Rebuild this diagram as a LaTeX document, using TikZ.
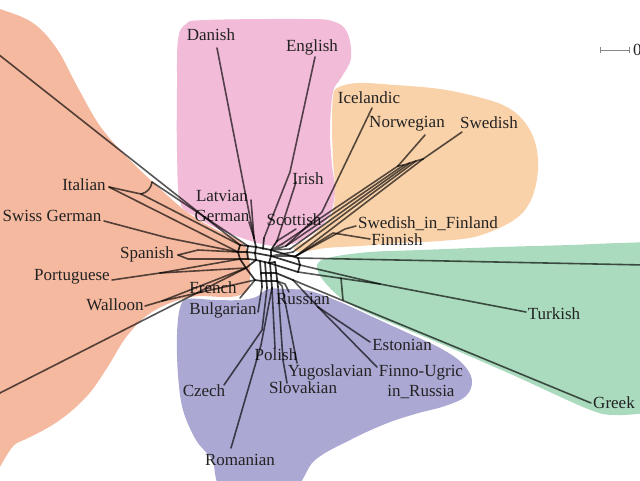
\documentclass[tikz,border=0pt]{standalone}
\usepackage{fontspec}
\setmainfont{Liberation Serif}
\definecolor{romc}{HTML}{F5B9A0}
\definecolor{germc}{HTML}{F2BBD8}
\definecolor{nordc}{HTML}{FAD2AA}
\definecolor{turkc}{HTML}{AADBBE}
\definecolor{slavc}{HTML}{ABA8D4}
\definecolor{labc}{HTML}{222222}
\definecolor{barc}{HTML}{888888}
\tikzset{
  lang/.style={font=\fontsize{17}{20}\selectfont, text=labc, inner sep=0pt},
  splitln/.style={draw=black, draw opacity=0.66, line width=1.6pt, line join=round, line cap=round},
  coreln/.style={draw=black, draw opacity=0.8, line width=1.7pt, line join=round, line cap=round},
}
\begin{document}
\begin{tikzpicture}[x={(1pt,0)}, y={(0,-1pt)}]
\useasboundingbox (0,0) rectangle (640,480);
\fill[white] (0,0) rectangle (640,480);

% ---------- coloured groups ----------
\fill[romc] plot[smooth cycle, tension=0.6] coordinates {(-30,0) (0,9) (33,23) (57,49) (77,86) (100,126) (127,157) (157,186) (187,212) (215,229) (238,240) (248,252) (250,276) (247,291) (230,297) (190,297) (152,312) (127,336) (107,368) (87,396) (57,422) (17,443) (-30,460)};
\fill[germc] plot[smooth cycle, tension=0.6] coordinates {(178,40) (186,24) (205,20) (300,19) (332,21) (347,32) (351,58) (341,78) (333,92) (330,130) (332,165) (335,192) (328,218) (306,238) (282,246) (262,244) (242,238) (218,229) (195,216) (180,202) (177,150) (177,90)};
\fill[nordc] plot[smooth cycle, tension=0.6] coordinates {(337,88) (358,83) (395,85) (440,89) (478,97) (505,106) (523,120) (535,142) (538,170) (531,200) (514,220) (478,236) (440,241) (400,243) (360,246) (326,248) (300,252) (295,247) (312,236) (331,215) (335,190) (333,160) (332,125) (333,98)};
\fill[turkc] plot[smooth cycle, tension=0.6] coordinates {(318,263) (332,257) (370,252) (420,250) (500,247) (570,245) (620,243) (650,243) (660,250) (660,405) (650,412) (615,415) (588,409) (515,376) (460,352) (413,332) (370,314) (345,301) (330,288) (319,274)};
\fill[slavc] plot[smooth cycle, tension=0.6] coordinates {(188,299) (215,300) (240,300) (256,297) (268,289) (285,289) (310,291) (340,302) (375,318) (410,334) (440,348) (462,363) (472,380) (466,396) (445,406) (415,414) (385,424) (350,440) (315,460) (290,490) (225,490) (212,460) (196,440) (183,410) (178,375) (177,335) (180,308)};

% ---------- central web (splits graph core) ----------
\coordinate (hL1) at (240,245); \coordinate (hL2) at (238,252); \coordinate (hL3) at (240,259);
\coordinate (hQ1) at (248,246); \coordinate (hQ2) at (247,252); \coordinate (hQ3) at (248,259);
\coordinate (hM1) at (256,247); \coordinate (hM2) at (255,253); \coordinate (hM3) at (256,260);
\coordinate (hR1) at (271,250); \coordinate (hR2) at (271,256); \coordinate (hR3) at (269,263);
\coordinate (v1t) at (260,261); \coordinate (v1b) at (262,287);
\coordinate (v2t) at (265,262); \coordinate (v2b) at (267,288);
\coordinate (v3t) at (270,263); \coordinate (v3b) at (272,288);
\coordinate (v4t) at (275,262); \coordinate (v4b) at (278,287);
\coordinate (v1m) at (261,273); \coordinate (v4m) at (276,273);
\coordinate (v1n) at (262,281); \coordinate (v4n) at (277,281);
\coordinate (rA1) at (298,258); \coordinate (rA2) at (300,265);
\coordinate (rA3) at (298,272); \coordinate (rA4) at (293,280);
\coordinate (uA1) at (254,238); \coordinate (uA2) at (264,238);
\coordinate (uA3) at (277,241); \coordinate (lowL) at (246,268);
\coordinate (fA) at (255,280); \coordinate (mR) at (263,249);

\draw[coreln] (hL1)--(hQ1)--(hM1)--(hR1);
\draw[coreln] (hL2)--(hQ2)--(hM2)--(hR2);
\draw[coreln] (hL3)--(hQ3)--(hM3)--(hR3);
\draw[coreln] (hL1)--(hL2)--(hL3) (hQ1)--(hQ2)--(hQ3) (hM1)--(hM2)--(hM3) (hR1)--(hR2)--(hR3);
\draw[coreln] (v1t)--(v1b) (v2t)--(v2b) (v3t)--(v3b) (v4t)--(v4b);
\draw[coreln] (v1m)--(v4m) (v1n)--(v4n) (hR3)--(v4t);
\draw[coreln] (hR1)--(rA1) (hR2)--(rA2) (hR3)--(rA3) (v4m)--(rA4);
\draw[coreln] (rA1)--(rA2)--(rA3);
\draw[coreln] (hM1)--(uA1) (mR)--(uA2) (hR1)--(uA3);
\draw[coreln] (hM3)--(lowL)--(hL3) (lowL)--(fA)--(v1n);

% ---------- labels ----------
\node[lang] (lDA) at (211,35) {Danish};
\node[lang] (lEN) at (312,47) {English};
\node[lang] (lIC) at (369,98) {Icelandic};
\node[lang] (lNO) at (407,124) {Norwegian};
\node[lang] (lSW) at (489,123) {Swedish};
\node[lang] (lIR) at (308,179) {Irish};
\node[lang] (lLA) at (222,196) {Latvian};
\node[lang] (lGE) at (222,216) {German};
\node[lang] (lSC) at (294,220) {Scottish};
\node[lang] (lSF) at (428,224) {Swedish\_in\_Finland};
\node[lang] (lFI) at (397,240) {Finnish};
\node[lang] (lIT) at (84,185) {Italian};
\node[lang] (lSG) at (52,216) {Swiss German};
\node[lang] (lSP) at (147,254) {Spanish};
\node[lang] (lPT) at (72,277) {Portuguese};
\node[lang] (lFR) at (213,288) {French};
\node[lang] (lWA) at (115,305) {Walloon};
\node[lang] (lBG) at (223,310) {Bulgarian};
\node[lang] (lRU) at (303,299) {Russian};
\node[lang] (lTU) at (554,314) {Turkish};
\node[lang] (lES) at (402,345) {Estonian};
\node[lang, align=center] (lFU) at (421,382) {Finno-Ugric\\in\_Russia};
\node[lang] (lPO) at (276,355) {Polish};
\node[lang] (lYU) at (330,372) {Yugoslavian};
\node[lang] (lSK) at (303,388) {Slovakian};
\node[lang] (lCZ) at (204,391) {Czech};
\node[lang] (lRO) at (240,460) {Romanian};
\node[lang] (lGR) at (614,403) {Greek};

% ---------- leaf tips and bends ----------
\coordinate (tTL) at (-2,54);   \coordinate (tBL) at (-2,394);  \coordinate (tRL) at (645,265);
\coordinate (tIT) at (109,187); \coordinate (i1) at (141,194);  \coordinate (i2) at (152,182);
\coordinate (tSG) at (104,221); \coordinate (s1) at (168,238);
\coordinate (tSP) at (178,255); \coordinate (sp1) at (198,250); \coordinate (sp2) at (188,259);
\coordinate (tPT) at (112,280); \coordinate (p1) at (160,273);
\coordinate (tWA) at (145,306); \coordinate (w1) at (162,301);
\coordinate (tFR) at (240,298);
\coordinate (tBG) at (258,312);
\coordinate (tCZ) at (224,385); \coordinate (c1) at (262,330);
\coordinate (tRO) at (231,448); \coordinate (r1) at (261,345);
\coordinate (tPO) at (275,348);
\coordinate (tSK) at (287,383); \coordinate (sk1) at (283,360);
\coordinate (tYU) at (297,363); \coordinate (aYU) at (282,286);
\coordinate (tRU) at (289,292); \coordinate (aRU) at (285,284);
\coordinate (tES) at (370,342); \coordinate (tFU) at (377,367); \coordinate (e1) at (318,307);
\coordinate (tTU) at (526,312); \coordinate (tu1) at (380,284);
\coordinate (tGR) at (591,403);
\coordinate (g1) at (341,278);  \coordinate (g2) at (343,300);
\coordinate (tIC) at (372,108); \coordinate (ic1) at (322,212);
\coordinate (tNO) at (425,135); \coordinate (tSW) at (462,132);
\coordinate (n1) at (398,166);  \coordinate (n2) at (404,165); \coordinate (n3) at (410,163);
\coordinate (n4) at (416,161);  \coordinate (n5) at (423,159);
\coordinate (k1) at (282,244);  \coordinate (k2) at (286,246); \coordinate (k3) at (290,249);
\coordinate (k4) at (293,252);  \coordinate (k5) at (296,256);
\coordinate (tSF) at (356,226); \coordinate (sf1) at (345,229);
\coordinate (tFI) at (370,239); \coordinate (fi1) at (333,233);
\coordinate (tDA) at (217,48);
\coordinate (tEN) at (315,57);  \coordinate (en1) at (290,172);
\coordinate (tIR) at (296,182);
\coordinate (tLA) at (251,200);
\coordinate (tGE) at (249,222);
\coordinate (tSC) at (296,229);

% ---------- edges ----------
\draw[splitln] (tTL)--(hL1);
\draw[splitln] (i2)--(hQ1);
\draw[splitln] (tIT)--(i1)--(hL1);
\draw[splitln] (i1) to[bend right=35] (i2);
\draw[splitln] (tIT)--(hL2);
\draw[splitln] (tSG)--(s1)--(hL2);
\draw[splitln] (tSP)--(sp1)--(hL2);
\draw[splitln] (tSP)--(sp2)--(hL3);
\draw[splitln] (tPT)--(p1)--(hL3);
\draw[splitln] (p1)--(lowL);
\draw[splitln] (tWA)--(w1)--(lowL);
\draw[splitln] (w1)--(fA);
\draw[splitln] (tBL)--(lowL);
\draw[splitln] (tFR)--(fA);
\draw[splitln] (tBG)--(v1b);
\draw[splitln] (tCZ)--(c1)--(v2b);
\draw[splitln] (tRO)--(r1)--(v3b);
\draw[splitln] (tPO)--(v3b);
\draw[splitln] (tSK)--(sk1)--(v4b);
\draw[splitln] (tYU)--(aYU)--(v4n);
\draw[splitln] (tRU)--(aRU)--(v4n);
\draw[splitln] (tES)--(e1);
\draw[splitln] (tFU)--(e1);
\draw[splitln] (e1)--(rA4);
\draw[splitln] (tRL)--(rA1);
\draw[splitln] (tTU)--(tu1)--(rA3);
\draw[splitln] (tu1)--(rA2);
\draw[splitln] (tGR)--(rA4);
\draw[splitln] (g1)--(g2);
\draw[splitln] (tIC)--(ic1)--(k2);
\draw[splitln] (tNO)--(n1);
\draw[splitln] (tSW)--(n5);
\draw[splitln] (n1)--(n2)--(n3)--(n4)--(n5);
\draw[splitln] (n1)--(k1);
\draw[splitln] (n2)--(k2);
\draw[splitln] (n3)--(k3);
\draw[splitln] (n4)--(k4);
\draw[splitln] (n5)--(k5);
\draw[splitln] (k1)--(hR1) (k2)--(hR1) (k3)--(hR1) (k4)--(hR2) (k5)--(hR2);
\draw[splitln] (tSF)--(sf1)--(k5);
\draw[splitln] (tFI)--(fi1)--(k5);
\draw[splitln] (tDA)--(uA1);
\draw[splitln] (tEN)--(en1)--(uA2);
\draw[splitln] (tIR)--(uA3);
\draw[splitln] (tLA)--(uA1);
\draw[splitln] (tGE)--(uA1);
\draw[splitln] (tSC)--(uA3);

% ---------- scale bar ----------
\coordinate (sb1) at (600,50);
\coordinate (sb2) at (629,50);
\draw[barc, line width=1pt] (sb1)--(sb2);
\draw[barc, line width=1pt] ([yshift=-3pt]sb1)--([yshift=3pt]sb1);
\draw[barc, line width=1pt] ([yshift=-3pt]sb2)--([yshift=3pt]sb2);
\node[lang, anchor=west] (lbar) at (633,50) {0.1};
\end{tikzpicture}
\end{document}
